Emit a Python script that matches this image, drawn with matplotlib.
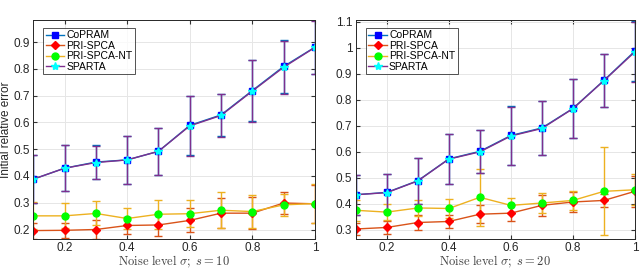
"""
Initial relative error vs noise level for four sparse phase retrieval methods.
"""

import matplotlib
matplotlib.use("Agg")
import matplotlib.pyplot as plt

plt.rcParams['font.family'] = ['Liberation Sans', 'DejaVu Sans']
plt.rcParams['mathtext.fontset'] = 'cm'

# Noise levels
noise = [0.1, 0.2, 0.3, 0.4, 0.5, 0.6, 0.7, 0.8, 0.9, 1.0]

# s = 10
copram_10 = [0.388, 0.429, 0.452, 0.460, 0.492, 0.589, 0.628, 0.719, 0.809, 0.881]
copram_10_err = [0.090, 0.087, 0.063, 0.090, 0.087, 0.110, 0.079, 0.115, 0.098, 0.100]
sparta_10 = [0.388, 0.429, 0.450, 0.460, 0.492, 0.587, 0.626, 0.717, 0.806, 0.880]
sparta_10_err = [0.090, 0.087, 0.063, 0.090, 0.087, 0.111, 0.079, 0.115, 0.098, 0.100]
prispca_10 = [0.196, 0.197, 0.200, 0.215, 0.217, 0.234, 0.261, 0.261, 0.299, 0.296]
prispca_10_err = [0.030, 0.027, 0.036, 0.030, 0.040, 0.045, 0.055, 0.060, 0.040, 0.070]
printy_10 = [0.251, 0.251, 0.260, 0.241, 0.257, 0.259, 0.272, 0.267, 0.292, 0.297]
printy_10_err = [0.050, 0.047, 0.045, 0.039, 0.055, 0.050, 0.067, 0.063, 0.040, 0.073]

# s = 20
copram_20 = [0.435, 0.444, 0.489, 0.573, 0.602, 0.663, 0.692, 0.767, 0.875, 0.988]
copram_20_err = [0.077, 0.070, 0.088, 0.097, 0.083, 0.112, 0.104, 0.113, 0.103, 0.115]
sparta_20 = [0.435, 0.443, 0.488, 0.572, 0.600, 0.661, 0.690, 0.766, 0.874, 0.985]
sparta_20_err = [0.077, 0.070, 0.088, 0.097, 0.083, 0.112, 0.104, 0.113, 0.103, 0.115]
prispca_20 = [0.303, 0.309, 0.328, 0.332, 0.360, 0.364, 0.394, 0.407, 0.413, 0.448]
prispca_20_err = [0.025, 0.025, 0.030, 0.025, 0.035, 0.030, 0.040, 0.040, 0.025, 0.060]
printy_20 = [0.375, 0.368, 0.384, 0.382, 0.425, 0.394, 0.403, 0.413, 0.448, 0.454]
printy_20_err = [0.040, 0.030, 0.032, 0.038, 0.110, 0.030, 0.040, 0.035, 0.170, 0.060]

# MATLAB default colours
C_BLUE = (0.0, 0.447, 0.741)
C_ORANGE = (0.85, 0.325, 0.098)
C_YELLOW = (0.929, 0.694, 0.125)
C_PURPLE = (0.494, 0.184, 0.556)


def draw_panel(ax, series, ylim, yticks, s_val):
    handles = []
    for label, y, err, lcol, mcol, marker, ms in series:
        cont = ax.errorbar(noise, y, yerr=err, color=lcol, lw=1.0, elinewidth=1.0,
                           capsize=3, capthick=1.0, marker=marker, markersize=ms,
                           markerfacecolor=mcol, markeredgecolor=mcol, label=label)
        # legend shows only the line + marker, no error bar
        handles.append(cont.lines[0])
    ax.set_xlim(0.1, 1.0)
    ax.set_ylim(*ylim)
    ax.set_xticks([0.2, 0.4, 0.6, 0.8, 1.0])
    ax.set_xticklabels(['0.2', '0.4', '0.6', '0.8', '1'])
    ax.set_yticks(yticks)
    ax.set_yticklabels(['%g' % t for t in yticks])
    ax.grid(True, color='#e6e6e6', lw=0.7)
    ax.set_axisbelow(True)
    ax.tick_params(direction='in', length=3, labelsize=8.5, color='#333333',
                   labelcolor='#262626', top=True, right=True, pad=2.5)
    for sp in ax.spines.values():
        sp.set_color('#262626')
        sp.set_linewidth(0.7)
    ax.set_xlabel(r'$\mathrm{Noise\ level}\ \sigma;\ s = %d$' % s_val,
                  fontsize=9, color='#404040', labelpad=-0.5)
    leg = ax.legend(handles, [s[0] for s in series], loc='upper left',
                    bbox_to_anchor=(0.035, 0.965), fontsize=7.5,
                    frameon=True, fancybox=False, borderpad=0.25, labelspacing=0.05,
                    handlelength=1.8, handletextpad=0.2, borderaxespad=0)
    leg.get_frame().set_edgecolor('#262626')
    leg.get_frame().set_linewidth(0.7)


fig = plt.figure(figsize=(6.4, 2.69), dpi=100)
ax1 = fig.add_axes([0.052, 0.112, 0.44, 0.814])
ax2 = fig.add_axes([0.556, 0.112, 0.436, 0.814])

series_10 = [
    ('CoPRAM', copram_10, copram_10_err, C_BLUE, (0, 0, 1), 's', 4.5),
    ('PRI-SPCA', prispca_10, prispca_10_err, C_ORANGE, (1, 0, 0), 'D', 4.5),
    ('PRI-SPCA-NT', printy_10, printy_10_err, C_YELLOW, (0, 1, 0), 'o', 5),
    ('SPARTA', sparta_10, sparta_10_err, C_PURPLE, (0, 1, 1), '*', 6),
]
series_20 = [
    ('CoPRAM', copram_20, copram_20_err, C_BLUE, (0, 0, 1), 's', 4.5),
    ('PRI-SPCA', prispca_20, prispca_20_err, C_ORANGE, (1, 0, 0), 'D', 4.5),
    ('PRI-SPCA-NT', printy_20, printy_20_err, C_YELLOW, (0, 1, 0), 'o', 5),
    ('SPARTA', sparta_20, sparta_20_err, C_PURPLE, (0, 1, 1), '*', 6),
]

draw_panel(ax1, series_10, (0.165, 0.983), [0.2, 0.3, 0.4, 0.5, 0.6, 0.7, 0.8, 0.9], 10)
draw_panel(ax2, series_20, (0.265, 1.108), [0.3, 0.4, 0.5, 0.6, 0.7, 0.8, 0.9, 1.0, 1.1], 20)
ax1.set_ylabel('Initial relative error', fontsize=8.5, color='#262626', labelpad=1)

fig.savefig('out.png', dpi=100)
